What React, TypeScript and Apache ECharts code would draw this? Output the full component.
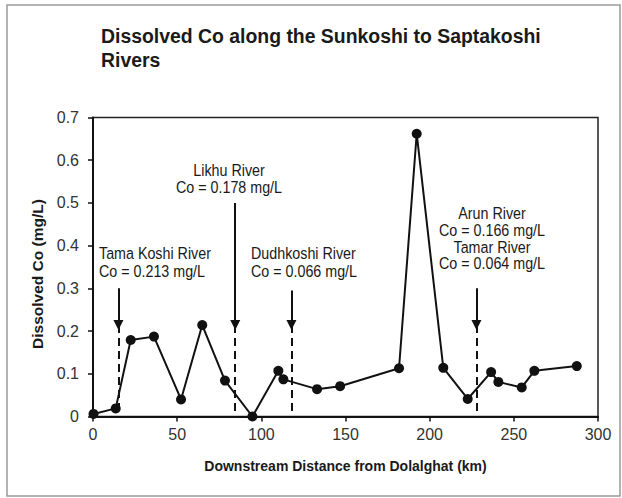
import React, { useEffect, useRef } from "react";
import * as echarts from "echarts";

const distanceKm = [0.3, 13.5, 22.4, 36.2, 52.3, 64.9, 78.4, 94.7, 110.1, 113.1, 133.1, 146.8, 181.8, 192.3, 208.1, 222.6, 236.5, 240.8, 254.7, 262.2, 287.4];
const cobaltMgL = [0.006, 0.019, 0.179, 0.187, 0.04, 0.214, 0.084, 0.0, 0.107, 0.087, 0.064, 0.071, 0.113, 0.662, 0.114, 0.041, 0.104, 0.081, 0.068, 0.107, 0.118];

const tributaryKm = [15.1, 84.5, 117.9, 227.8];
const arrowTop = [0.3, 0.5, 0.295, 0.3];
const arrowHead = 0.214;

const xTicks = { min: 0, max: 300, interval: 50 };
const yTicks = { min: 0, max: 0.7, interval: 0.1 };

const FONT = '"Liberation Sans", Arial, sans-serif';
const INK = "#1a1a1a";

export default function App() {
  const ref = useRef<HTMLDivElement>(null);
  useEffect(() => {
    if (!ref.current) return;
    const chart = echarts.init(ref.current, null, { renderer: "svg" });
    const points = distanceKm.map((d, i) => [d, cobaltMgL[i]]);
    const solid = tributaryKm.map((k, i) => [
      { coord: [k, arrowTop[i]] },
      { coord: [k, arrowHead] },
    ]);
    const dashed = tributaryKm.map((k) => [
      { coord: [k, arrowHead] },
      { coord: [k, 0] },
    ]);
    const txt = (x: number, y: number, text: string, align: string, lh: number, font: string, sy: number) => ({
      type: "text",
      x,
      y,
      scaleY: sy,
      silent: true,
      style: {
        text,
        font,
        fill: INK,
        align,
        verticalAlign: "top",
        lineHeight: lh,
      },
    });
    chart.setOption({
      animation: false,
      backgroundColor: "#ffffff",
      textStyle: { fontFamily: FONT },
      grid: {
        left: 93,
        right: 24,
        top: 117.5,
        bottom: 81.5,
        show: true,
        borderColor: "#222",
        borderWidth: 1.5,
        backgroundColor: "transparent",
      },
      xAxis: {
        type: "value",
        min: xTicks.min,
        max: xTicks.max,
        interval: xTicks.interval,
        name: "Downstream Distance from Dolalghat (km)",
        nameLocation: "middle",
        nameGap: 42,
        nameTextStyle: { fontFamily: FONT, fontSize: 14, fontWeight: "bold", color: INK },
        axisLine: { show: true, lineStyle: { color: "#111", width: 2 } },
        axisTick: { show: true, inside: false, length: 5, lineStyle: { color: "#111", width: 1.5 } },
        axisLabel: { margin: 10, fontFamily: FONT, fontSize: 16, color: "#333" },
        splitLine: { show: false },
      },
      yAxis: {
        type: "value",
        min: yTicks.min,
        max: yTicks.max,
        interval: yTicks.interval,
        name: "Dissolved Co (mg/L)",
        nameLocation: "middle",
        nameGap: 46,
        nameRotate: 90,
        nameTextStyle: { fontFamily: FONT, fontSize: 15.5, fontWeight: "bold", color: INK, padding: [0, 0, 0, -14] },
        axisLine: { show: true, lineStyle: { color: "#111", width: 2 } },
        axisTick: { show: true, inside: false, length: 5, lineStyle: { color: "#111", width: 1.5 } },
        axisLabel: {
          margin: 14,
          fontFamily: FONT,
          fontSize: 16,
          color: "#333",
          formatter: (v: number) => (v === 0 ? "0" : v.toFixed(1)),
        },
        splitLine: { show: false },
      },
      series: [
        {
          type: "line",
          data: points,
          symbol: "circle",
          symbolSize: 10,
          showSymbol: true,
          lineStyle: { color: "#111", width: 2 },
          itemStyle: { color: "#111" },
          z: 3,
        },
        {
          type: "line",
          data: [],
          silent: true,
          markLine: {
            silent: true,
            animation: false,
            symbol: ["none", "triangle"],
            symbolSize: [10, 10],
            label: { show: false },
            lineStyle: { color: "#111", width: 2, type: "solid" },
            emphasis: { disabled: true },
            data: solid,
          },
        },
        {
          type: "line",
          data: [],
          silent: true,
          markLine: {
            silent: true,
            animation: false,
            symbol: ["none", "none"],
            label: { show: false },
            lineStyle: { color: "#111", width: 2, type: [8, 5] },
            emphasis: { disabled: true },
            data: dashed,
          },
        },
      ],
      graphic: [
        {
          type: "rect",
          silent: true,
          shape: { x: 7, y: 5, width: 613, height: 491 },
          style: { fill: "none", stroke: "#9a9a9a", lineWidth: 1.5 },
          z: -1,
        },
        txt(101, 24, "Dissolved Co along the Sunkoshi to Saptakoshi\nRivers", "left", 22.2, `bold 19.4px ${FONT}`, 1.08),
        txt(99, 244.5, "Tama Koshi River\nCo = 0.213 mg/L", "left", 16.1, `14.3px ${FONT}`, 1.1),
        txt(229, 161.4, "Likhu River\nCo = 0.178 mg/L", "center", 15.7, `14.3px ${FONT}`, 1.1),
        txt(251, 244.5, "Dudhkoshi River\nCo = 0.066 mg/L", "left", 16.1, `14.3px ${FONT}`, 1.1),
        txt(492, 205, "Arun River\nCo = 0.166 mg/L\nTamar River\nCo = 0.064 mg/L", "center", 15.2, `14.3px ${FONT}`, 1.1),
      ],
    });
    return () => chart.dispose();
  }, []);
  return (
    <div
      ref={ref}
      style={{ position: "fixed", left: 0, top: 0, width: 622, height: 498, background: "#fff" }}
    />
  );
}
